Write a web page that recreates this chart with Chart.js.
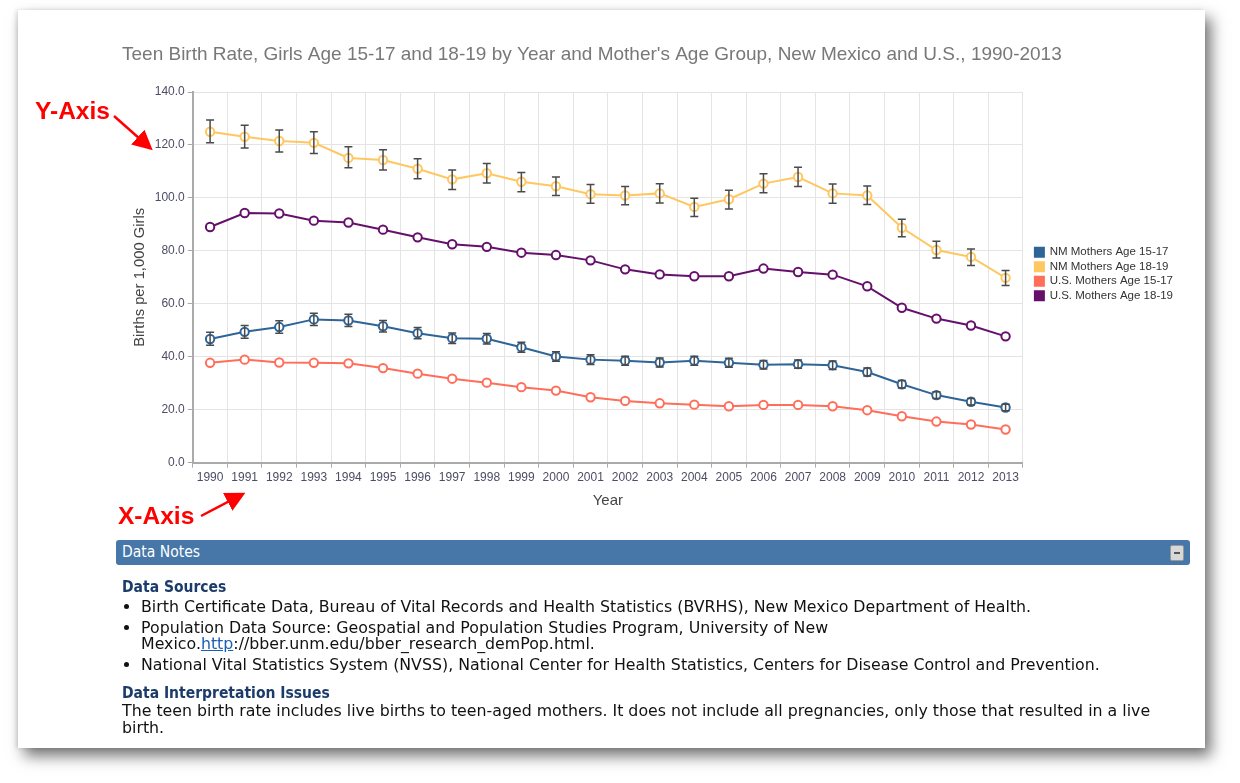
<!DOCTYPE html>
<html>
<head>
<meta charset="utf-8">
<script src="https://cdn.jsdelivr.net/npm/chart.js@4.4.0/dist/chart.umd.min.js"></script>
<style>
  body { margin: 0; background: #fff; width: 1240px; height: 783px; overflow: hidden; font-family: "Liberation Sans", Arial, sans-serif; }
  #card { position: absolute; left: 18px; top: 10px; width: 1187px; height: 738px; background: #fff;
          box-shadow: 6px 8px 14px rgba(0,0,0,0.55), -2px 0 4px rgba(0,0,0,0.12); }
  #chartBox { position: absolute; left: 114px; top: 38px; width: 1091px; height: 472px; }
  #notesBar { position: absolute; left: 116px; top: 540px; width: 1074px; height: 25px; background: #4677a8;
              border-radius: 3px; color: #fff; font-family: "DejaVu Sans Condensed", sans-serif; font-size: 15.5px; line-height: 25px; }
  #notesBar span { margin-left: 6px; }
  #notesBar i { position: absolute; right: 6px; top: 5px; width: 12px; height: 14px; background: #d8d8d8; border: 1px solid #999; border-radius: 2px; }
  #notesBar i:after { content: ""; position: absolute; left: 3px; top: 6px; width: 6px; height: 2px; background: #555; }
  #notes { position: absolute; left: 122px; top: 579px; width: 1062px; font-family: "DejaVu Sans", sans-serif; font-size: 15.8px; color: #111; }
  #notes h4 { margin: 0; color: #1b3b6a; font-family: "DejaVu Sans Condensed", sans-serif; font-size: 15.5px; font-weight: bold; line-height: 17px; }
  #notes ul { margin: 3px 0 12px 0; padding-left: 19px; }
  #notes li { line-height: 16px; margin-bottom: 5px; }
  #notes p { margin: 0; line-height: 17px; }
  #notes a { color: #1a5fb4; }
  svg { position: absolute; left: 0; top: 0; }
</style>
</head>
<body>
<div id="card"></div>
<div id="chartBox"><canvas id="teenChart"></canvas></div>
<svg width="1240" height="783">
  <defs>
    <marker id="ah" markerWidth="8" markerHeight="8" refX="6" refY="4" orient="auto">
      <path d="M0,0 L8,4 L0,8 z" fill="#f00"/>
    </marker>
  </defs>
  <text x="35" y="119" fill="#f00" font-family="Liberation Sans, sans-serif" font-weight="bold" font-size="24.5">Y-Axis</text>
  <line x1="114" y1="116" x2="149" y2="147" stroke="#f00" stroke-width="2.5" marker-end="url(#ah)"/>
  <text x="118" y="524" fill="#f00" font-family="Liberation Sans, sans-serif" font-weight="bold" font-size="24.5">X-Axis</text>
  <line x1="201" y1="516" x2="241" y2="495" stroke="#f00" stroke-width="2.5" marker-end="url(#ah)"/>
</svg>
<div id="notesBar"><span>Data Notes</span><i></i></div>
<div id="notes">
  <h4>Data Sources</h4>
  <ul>
    <li>Birth Certificate Data, Bureau of Vital Records and Health Statistics (BVRHS), New Mexico Department of Health.</li>
    <li>Population Data Source: Geospatial and Population Studies Program, University of New Mexico.<a href="#">http</a>://bber.unm.edu/bber_research_demPop.html.</li>
    <li>National Vital Statistics System (NVSS), National Center for Health Statistics, Centers for Disease Control and Prevention.</li>
  </ul>
  <h4>Data Interpretation Issues</h4>
  <p>The teen birth rate includes live births to teen-aged mothers. It does not include all pregnancies, only those that resulted in a live birth.</p>
</div>
<script>
var years = ['1990','1991','1992','1993','1994','1995','1996','1997','1998','1999','2000','2001',
             '2002','2003','2004','2005','2006','2007','2008','2009','2010','2011','2012','2013'];

var nm1517 = [46.7, 49.4, 51.2, 54.1, 53.7, 51.5, 48.9, 47.0, 46.8, 43.6, 40.1, 38.9,
              38.5, 37.8, 38.5, 37.7, 37.0, 37.2, 36.8, 34.2, 29.6, 25.5, 23.0, 20.8];
var nm1517Low = [44.3, 47.0, 48.9, 51.8, 51.4, 49.3, 46.8, 45.0, 44.8, 41.7, 38.3, 37.1,
                 36.8, 36.1, 36.8, 36.0, 35.4, 35.6, 35.2, 32.7, 28.2, 24.2, 21.8, 19.6];
var nm1517High = [49.2, 51.8, 53.6, 56.4, 56.0, 53.7, 51.0, 49.0, 48.8, 45.5, 41.9, 40.7,
                  40.2, 39.5, 40.2, 39.4, 38.6, 38.8, 38.4, 35.7, 31.0, 26.8, 24.2, 22.0];

var nm1819 = [125.0, 123.1, 121.5, 120.8, 115.1, 114.3, 111.0, 107.0, 109.3, 106.1, 104.4, 101.4,
              100.9, 101.7, 96.6, 99.5, 105.4, 107.9, 101.7, 100.9, 88.7, 80.3, 77.7, 69.8];
var nm1819Low = [120.8, 118.8, 117.3, 116.8, 111.4, 110.5, 107.2, 103.2, 105.6, 102.3, 100.9, 98.0,
                 97.4, 98.1, 93.0, 95.8, 101.9, 104.3, 98.0, 97.5, 85.3, 77.3, 74.5, 66.9];
var nm1819High = [129.4, 127.4, 125.6, 125.0, 119.3, 118.2, 114.8, 110.5, 113.0, 109.6, 107.9, 105.1,
                  104.3, 105.3, 99.9, 102.9, 109.1, 111.6, 105.2, 104.5, 91.9, 83.6, 80.7, 72.6];

var us1517 = [37.7, 38.9, 37.8, 37.7, 37.5, 35.7, 33.6, 31.7, 30.2, 28.5, 27.2, 24.7,
              23.3, 22.4, 21.9, 21.3, 21.8, 21.8, 21.3, 19.8, 17.5, 15.5, 14.4, 12.5];

var us1819 = [89.0, 94.3, 94.1, 91.4, 90.7, 88.0, 85.1, 82.5, 81.5, 79.3, 78.4, 76.4,
              73.0, 71.1, 70.4, 70.4, 73.3, 72.0, 71.0, 66.6, 58.5, 54.4, 51.8, 47.7];

var yTicks = [0, 20, 40, 60, 80, 100, 120, 140];

// error bars drawn with the chart's own scales
var errorBars = {
  id: 'errorBars',
  afterDatasetsDraw: function (chart) {
    var ctx = chart.ctx;
    var yScale = chart.scales.y;
    chart.data.datasets.forEach(function (ds, i) {
      if (!ds.errLow) return;
      var meta = chart.getDatasetMeta(i);
      ctx.save();
      ctx.strokeStyle = '#4a4a4a';
      ctx.lineWidth = 1.5;
      meta.data.forEach(function (pt, j) {
        var x = pt.x;
        var y1 = yScale.getPixelForValue(ds.errLow[j]);
        var y2 = yScale.getPixelForValue(ds.errHigh[j]);
        ctx.beginPath();
        ctx.moveTo(x, y1); ctx.lineTo(x, y2);
        ctx.moveTo(x - 4, y1); ctx.lineTo(x + 4, y1);
        ctx.moveTo(x - 4, y2); ctx.lineTo(x + 4, y2);
        ctx.stroke();
      });
      ctx.restore();
    });
  }
};

function series(label, data, color) {
  return {
    label: label,
    data: data,
    borderColor: color,
    backgroundColor: color,
    pointBackgroundColor: '#fff',
    pointBorderColor: color,
    pointRadius: 4.2,
    pointBorderWidth: 2,
    borderWidth: 2,
    tension: 0
  };
}

var dsNm1517 = series('NM Mothers Age 15-17', nm1517, '#2f6496');
dsNm1517.errLow = nm1517Low; dsNm1517.errHigh = nm1517High;
var dsNm1819 = series('NM Mothers Age 18-19', nm1819, '#ffc760');
dsNm1819.errLow = nm1819Low; dsNm1819.errHigh = nm1819High;
var dsUs1517 = series('U.S. Mothers Age 15-17', us1517, '#ff6e5a');
var dsUs1819 = series('U.S. Mothers Age 18-19', us1819, '#65106b');

new Chart(document.getElementById('teenChart'), {
  type: 'line',
  data: {
    labels: years,
    datasets: [dsNm1517, dsNm1819, dsUs1517, dsUs1819]
  },
  plugins: [errorBars],
  options: {
    responsive: true,
    maintainAspectRatio: false,
    animation: false,
    layout: { padding: { left: 8, right: 22, top: 0, bottom: 0 } },
    plugins: {
      title: {
        display: true,
        align: 'start',
        text: "Teen Birth Rate, Girls Age 15-17 and 18-19 by Year and Mother's Age Group, New Mexico and U.S., 1990-2013",
        color: '#787878',
        font: { family: 'Liberation Sans', size: 19, weight: 'normal' },
        padding: { top: 5.5, bottom: 25.7 }
      },
      legend: {
        position: 'right',
        labels: {
          boxWidth: 9,
          boxHeight: 9,
          padding: 3,
          color: '#333',
          font: { family: 'Liberation Sans', size: 11.5 }
        }
      },
      tooltip: { enabled: false }
    },
    scales: {
      x: {
        offset: true,
        grid: { offset: true, color: '#e4e4e4', tickColor: '#aaa', tickLength: 5 },
        border: { color: '#aaa', width: 2 },
        ticks: { color: '#4d4d66', font: { family: 'Liberation Sans', size: 12 }, maxRotation: 0, autoSkip: false, padding: 3 },
        title: { display: true, text: 'Year', color: '#444', font: { family: 'Liberation Sans', size: 15 }, padding: { top: 4, bottom: 0 } }
      },
      y: {
        min: 0,
        max: 140,
        afterBuildTicks: function (axis) { axis.ticks = yTicks.map(function (v) { return { value: v }; }); },
        grid: { color: '#e4e4e4', tickColor: '#aaa', tickLength: 5 },
        border: { color: '#aaa', width: 2 },
        ticks: { color: '#4d4d66', font: { family: 'Liberation Sans', size: 12 }, padding: 3,
                 callback: function (v) { return Number(v).toFixed(1); } },
        title: { display: true, text: 'Births per 1,000 Girls', color: '#444', font: { family: 'Liberation Sans', size: 14.8 }, padding: { top: 9, bottom: 3 } }
      },
      // empty axis on the right: only keeps a gap between the plot and the legend
      gap: {
        axis: 'y',
        position: 'right',
        min: 0,
        max: 1,
        grid: { display: false, drawTicks: false },
        border: { display: false },
        ticks: { display: false },
        afterFit: function (axis) { axis.width = 9; }
      }
    }
  }
});
</script>
</body>
</html>
